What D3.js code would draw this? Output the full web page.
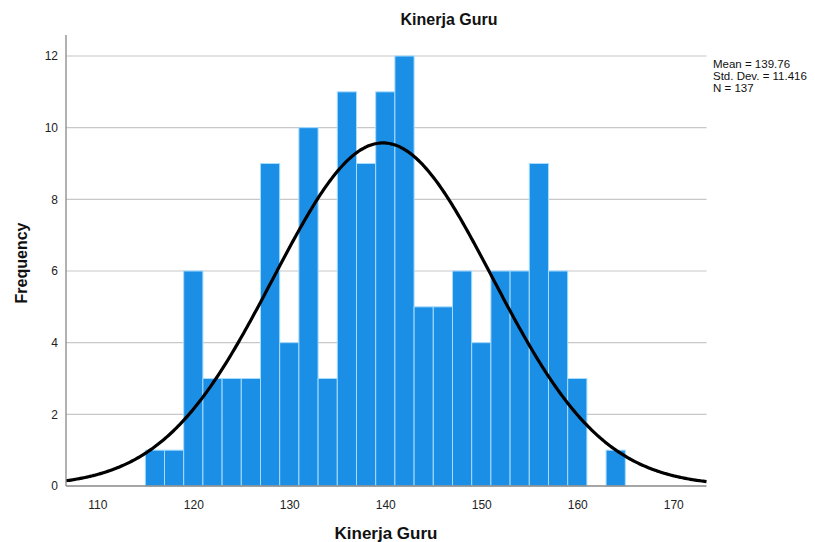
<!DOCTYPE html>
<html><head><meta charset="utf-8">
<script src="https://cdn.jsdelivr.net/npm/d3@7"></script>
<style>body{margin:0;background:#fff}svg{display:block}</style>
</head><body>
<svg id="c" width="815" height="542"></svg>
<script>
const binStarts = [115,117,119,121,123,125,127,129,131,133,135,137,139,141,143,145,147,149,151,153,155,157,159,161,163];
const counts    = [1,1,6,3,3,3,9,4,10,3,11,9,11,12,5,5,6,4,6,6,9,6,3,0,1];
const binWidth = 2;
const xTicks = [110,120,130,140,150,160,170];
const yTicks = [0,2,4,6,8,10,12];
const mean = 139.76, sd = 11.416, n = 137;
const statLines = ["Mean = 139.76","Std. Dev. = 11.416","N = 137"];

const svg = d3.select("#c");
const L = 66, R = 706.5, T = 35, B = 486;
const x = d3.scaleLinear().domain([106.74, 173.46]).range([L, R]);
const y = d3.scaleLinear().domain([0, 12.586]).range([B, T]);
const font = "Arial, 'Liberation Sans', sans-serif";

// gridlines
svg.append("g").selectAll("line").data(yTicks.filter(d=>d>0)).join("line")
  .attr("x1", L).attr("x2", R).attr("y1", d=>y(d)).attr("y2", d=>y(d))
  .attr("stroke", "#c8c8c8").attr("stroke-width", 1.2);

// bars
svg.append("g").selectAll("rect").data(binStarts.map((s,i)=>({s,c:counts[i]})).filter(d=>d.c>0)).join("rect")
  .attr("x", d=>x(d.s)).attr("width", d=>x(d.s+binWidth)-x(d.s))
  .attr("y", d=>y(d.c)).attr("height", d=>y(0)-y(d.c))
  .attr("fill", "#1b8fe6").attr("stroke", "#a6dcff").attr("stroke-width", 1);

// normal curve
const pts = d3.range(0, 401).map(i => {
  const v = 106.74 + (173.46-106.74)*i/400;
  return [v, n*binWidth*Math.exp(-0.5*((v-mean)/sd)**2)/(sd*Math.sqrt(2*Math.PI))];
});
svg.append("path").datum(pts)
  .attr("d", d3.line().x(d=>x(d[0])).y(d=>y(d[1])).curve(d3.curveBasis))
  .attr("fill", "none").attr("stroke", "#000").attr("stroke-width", 3.2);

// axes
const xa = svg.append("g").attr("transform", `translate(0,${B})`)
  .call(d3.axisBottom(x).tickValues(xTicks).tickSize(0).tickPadding(14));
const ya = svg.append("g").attr("transform", `translate(${L},0)`)
  .call(d3.axisLeft(y).tickValues(yTicks).tickSize(0).tickPadding(8));
[xa, ya].forEach(a => {
  a.select(".domain").attr("stroke", "#888").attr("stroke-width", 1.3);
  a.selectAll("text").attr("font-family", font).attr("font-size", 12).attr("fill", "#222");
});
ya.select(".domain").attr("d", `M0,${B}V${T}`);
xa.select(".domain").attr("d", `M${L},0H${R}`);

// titles
svg.append("text").attr("x", 449).attr("y", 25).attr("text-anchor", "middle")
  .attr("font-family", font).attr("font-weight", "bold").attr("font-size", 16).attr("fill", "#111")
  .text("Kinerja Guru");
svg.append("text").attr("x", 386).attr("y", 539).attr("text-anchor", "middle")
  .attr("font-family", font).attr("font-weight", "bold").attr("font-size", 17).attr("fill", "#111")
  .text("Kinerja Guru");
svg.append("text").attr("transform", "translate(27,263) rotate(-90)").attr("text-anchor", "middle")
  .attr("font-family", font).attr("font-weight", "bold").attr("font-size", 16).attr("fill", "#111")
  .text("Frequency");

// stats
svg.append("g").selectAll("text").data(statLines).join("text")
  .attr("x", 713).attr("y", (d,i)=>68+i*12)
  .attr("font-family", font).attr("font-size", 11.5).attr("fill", "#111")
  .text(d=>d);
</script>
</body></html>
